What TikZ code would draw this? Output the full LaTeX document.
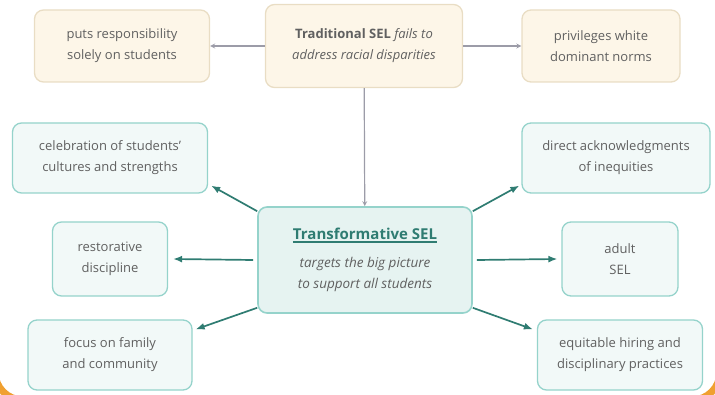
\documentclass[tikz,border=0pt]{standalone}
\usepackage{fontspec}
\setmainfont{Open Sans}
\usepackage{xcolor}
\usetikzlibrary{arrows, arrows.meta, positioning, calc}

\definecolor{tealline}{HTML}{95D3CB}
\definecolor{tealfill}{HTML}{F2F9F8}
\definecolor{tealmid}{HTML}{E6F3F1}
\definecolor{tealdark}{HTML}{2F7C72}
\definecolor{sandline}{HTML}{E9DDC4}
\definecolor{sandfill}{HTML}{FDF6E8}
\definecolor{greyarrow}{HTML}{9C9CA8}
\definecolor{txtgrey}{HTML}{606060}
\definecolor{framecol}{HTML}{F0A030}

\newcommand\thickul[1]{\vtop{\hbox{#1}\kern1.2pt\hrule height 2pt}}

\begin{document}
\begin{tikzpicture}[
    x=1pt, y=-1pt,
    every node/.style={text=txtgrey, align=center, font=\fontsize{13}{21}\selectfont},
    trad/.style={rectangle, rounded corners=9pt, draw=sandline, fill=sandfill, line width=1.3pt},
    idea/.style={rectangle, rounded corners=9pt, draw=tealline, fill=tealfill, line width=1.3pt},
    core/.style={rectangle, rounded corners=9pt, draw=tealline, fill=tealmid, line width=1.6pt},
    greyarrow/.style={-stealth, draw=greyarrow, line width=1.2pt},
    tealarrow/.style={-{Latex[length=9pt,width=7pt]}, draw=tealdark, line width=1.7pt}
]
    \useasboundingbox (0,0) rectangle (715,395);
    \begin{scope}
        \clip (0,0) rectangle (715,395);
        \draw[framecol, line width=7pt, rounded corners=28pt] (-5,-40) rectangle (720,400);
    \end{scope}

    % traditional SEL row
    \node [trad, minimum width=197pt, minimum height=83pt] (trad) at (364,46)
        {\textbf{Traditional SEL} \textit{fails to}\\\textit{address racial disparities}};
    \node [trad, minimum width=175pt, minimum height=72pt] (onstudents) at (122,46)
        {puts responsibility\\solely on students};
    \node [trad, minimum width=158pt, minimum height=72pt] (norms) at (601,46)
        {privileges white\\dominant norms};

    % transformative SEL
    \node [core, minimum width=214pt, minimum height=106pt] (trans) at (365,260)
        {{\color{tealdark}\fontsize{15}{21}\selectfont\thickul{\textbf{Transformative SEL}}}\\[7pt]
         \fontsize{13.5}{20}\selectfont\textit{targets the big picture}\\
         \fontsize{13.5}{20}\selectfont\textit{to support all students}};

    \node [idea, minimum width=195pt, minimum height=70pt] (cultures) at (110,158)
        {celebration of students'\\cultures and strengths};
    \node [idea, minimum width=115pt, minimum height=74pt] (restorative) at (110,259)
        {restorative\\discipline};
    \node [idea, minimum width=164pt, minimum height=70pt] (family) at (110,355)
        {focus on family\\and community};
    \node [idea, minimum width=188pt, minimum height=70pt] (inequities) at (616,158)
        {direct acknowledgments\\of inequities};
    \node [idea, minimum width=116pt, minimum height=74pt] (adult) at (620,259)
        {adult\\SEL};
    \node [idea, minimum width=165pt, minimum height=70pt] (hiring) at (620,355)
        {equitable hiring and\\disciplinary practices};

    \draw [greyarrow] (trad) -- (onstudents);
    \draw [greyarrow] (trad) -- (norms);
    \draw [greyarrow] (trad) -- (trans);

    % teal arrows, offsets in picture units (y grows downward)
    \draw [tealarrow] ($(trans.north west)+(0,5)$) -- ($(cultures.south east)+(3,-8)$);
    \draw [tealarrow] ($(trans.west)+(-4,0)$) -- ($(restorative.east)+(5,0)$);
    \draw [tealarrow] ($(trans.south west)+(0,-6)$) -- ($(family.north east)+(3,10)$);
    \draw [tealarrow] ($(trans.north east)+(0,5)$) -- ($(inequities.south west)+(-2,-8)$);
    \draw [tealarrow] ($(trans.east)+(4,0)$) -- ($(adult.west)+(-4,0)$);
    \draw [tealarrow] ($(trans.south east)+(0,-6)$) -- ($(hiring.north west)+(-4,10)$);
\end{tikzpicture}
\end{document}
